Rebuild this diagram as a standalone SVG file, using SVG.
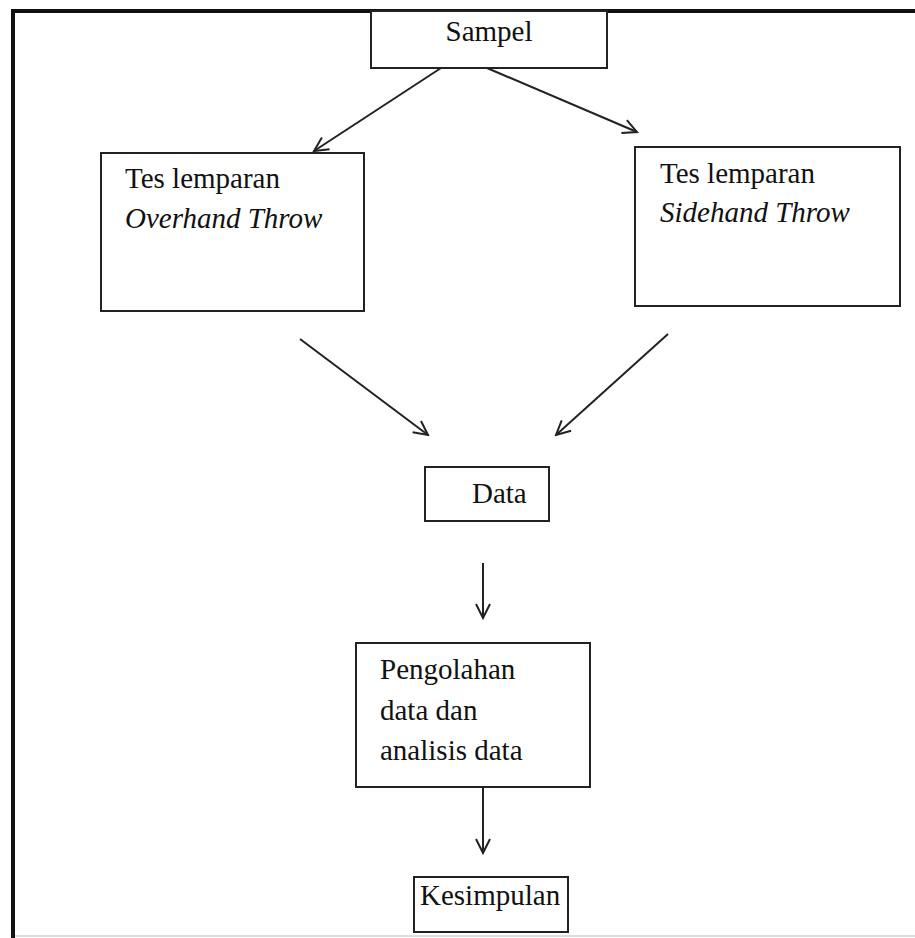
<svg xmlns="http://www.w3.org/2000/svg" width="915" height="938" viewBox="0 0 915 938">
<style>
.box{fill:#fff;stroke:#222;stroke-width:2}
.t{font-family:"Liberation Serif","Times New Roman",serif;font-size:29px;fill:#111}
.i{font-style:italic}
.c{stroke:#222;stroke-width:2;fill:none;marker-end:url(#ah)}
</style>
<defs>
<marker id="ah" viewBox="0 0 20 20" refX="18" refY="10" markerWidth="20" markerHeight="20" markerUnits="userSpaceOnUse" orient="auto">
<polyline points="4,3 18,10 4,17" fill="none" stroke="#222" stroke-width="2"/>
</marker>
</defs>
<rect width="915" height="938" fill="#fff"/>
<g id="frame">
<line x1="11" y1="11" x2="915" y2="11" stroke="#111" stroke-width="4"/>
<line x1="13" y1="9" x2="13" y2="938" stroke="#111" stroke-width="4"/>
<line x1="15" y1="936" x2="915" y2="936" stroke="#ddd" stroke-width="2"/>
</g>
<g id="connectors">
<line class="c" x1="441" y1="68" x2="314" y2="151"/>
<line class="c" x1="487" y1="68" x2="637" y2="132"/>
<line class="c" x1="300" y1="339" x2="428" y2="435"/>
<line class="c" x1="668" y1="334" x2="556" y2="435"/>
<line class="c" x1="483" y1="563" x2="483" y2="618"/>
<line class="c" x1="483" y1="787" x2="483" y2="853"/>
</g>
<g id="sampel">
<rect class="box" x="371" y="11" width="236" height="57"/>
<text class="t" x="489" y="41" text-anchor="middle">Sampel</text>
</g>
<g id="overhand">
<rect class="box" x="101" y="153" width="263" height="158"/>
<text class="t" x="125" y="188">Tes lemparan</text>
<text class="t i" x="125" y="228">Overhand Throw</text>
</g>
<g id="sidehand">
<rect class="box" x="635" y="147" width="265" height="159"/>
<text class="t" x="660" y="183">Tes lemparan</text>
<text class="t i" x="660" y="222">Sidehand Throw</text>
</g>
<g id="data">
<rect class="box" x="425" y="467" width="124" height="54"/>
<text class="t" x="472" y="503">Data</text>
</g>
<g id="pengolahan">
<rect class="box" x="356" y="643" width="234" height="144"/>
<text class="t" x="380" y="679">Pengolahan</text>
<text class="t" x="380" y="720">data dan</text>
<text class="t" x="380" y="760">analisis data</text>
</g>
<g id="kesimpulan">
<rect class="box" x="414" y="877" width="154" height="55"/>
<text class="t" x="420" y="905">Kesimpulan</text>
</g>
</svg>
